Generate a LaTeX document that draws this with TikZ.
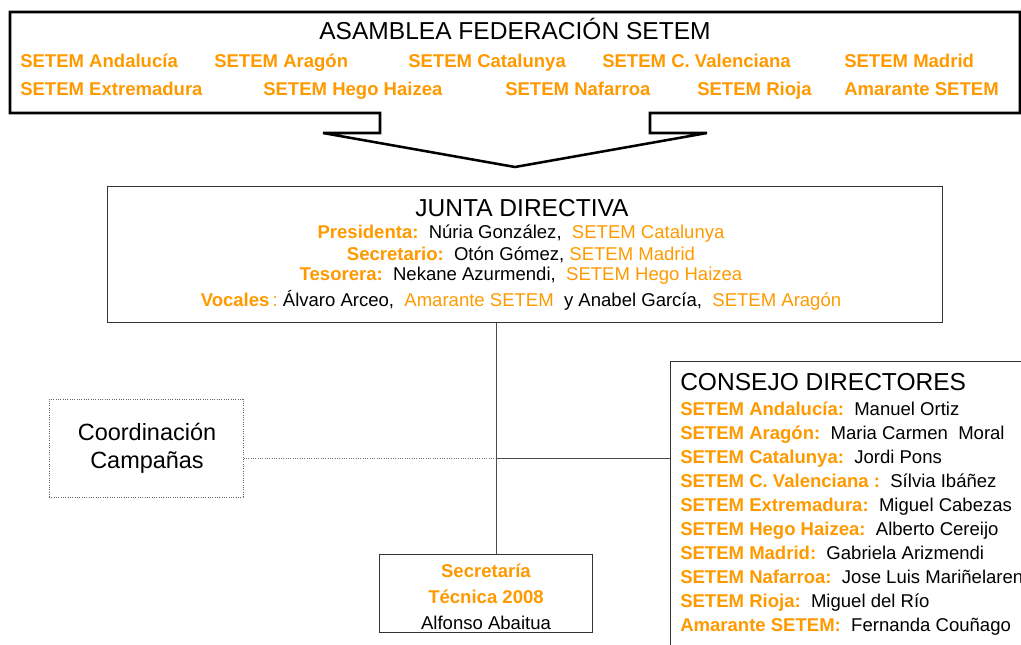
\documentclass[tikz,border=0pt]{standalone}
\usepackage{fontspec}
\setmainfont{Liberation Sans}
\usetikzlibrary{positioning}
\definecolor{setemnaranja}{RGB}{255,153,0}
\tikzstyle{caja} = [rectangle, draw=black!80, line width=0.75pt, inner sep=0pt]
\tikzstyle{cajapunteada} = [rectangle, draw=black!60, densely dotted, line width=0.75pt, inner sep=0pt]
\tikzstyle{titulo} = [font=\fontsize{18.4}{22}\selectfont, inner sep=0pt]
\tikzstyle{texto} = [font=\fontsize{13.9}{16}\selectfont, inner sep=0pt]
\tikzstyle{sede} = [text=setemnaranja, font=\fontsize{13.9}{16}\selectfont\bfseries, inner sep=0pt]
\tikzstyle{linea} = [draw=black!70, line width=0.75pt]
\newcommand{\org}[1]{\textcolor{setemnaranja}{\textbf{#1}}}
\newcommand{\naranja}[1]{\textcolor{setemnaranja}{#1}}

\begin{document}
\begin{tikzpicture}[x=0.75pt, y=-0.75pt]
\clip (0,0) rectangle (1021,644);
% asamblea
\draw [line width=1.9pt] (10,12) -- (1020,12) -- (1020,113) -- (650,113) -- (650,133) -- (707,133) -- (515,167) -- (323,133) -- (380,133) -- (380,113) -- (10,113) -- cycle;
\node (asamblea) [titulo, anchor=base] at (515,39) {ASAMBLEA FEDERACIÓN SETEM};
\node (and) [sede, anchor=base west] at (20,67) {SETEM Andalucía};
\node (ara) [sede, anchor=base west] at (214,67) {SETEM Aragón};
\node (cat) [sede, anchor=base west] at (408,67) {SETEM Catalunya};
\node (val) [sede, anchor=base west] at (602,67) {SETEM C. Valenciana};
\node (mad) [sede, anchor=base west] at (844,67) {SETEM Madrid};
\node (ext) [sede, anchor=base west] at (20,95) {SETEM Extremadura};
\node (heg) [sede, anchor=base west] at (263,95) {SETEM Hego Haizea};
\node (naf) [sede, anchor=base west] at (505,95) {SETEM Nafarroa};
\node (rio) [sede, anchor=base west] at (697,95) {SETEM Rioja};
\node (ama) [sede, anchor=base west] at (844,95) {Amarante SETEM};

% junta directiva
\node (junta) [caja, minimum width=626.25pt, minimum height=102pt] at (524.5,254) {};
\node (juntatit) [titulo, anchor=base] at (522,216) {JUNTA DIRECTIVA};
\node (pres) [texto, anchor=base] at (521,238) {\org{Presidenta:}~~Núria González,~~\naranja{SETEM Catalunya}};
\node (secr) [texto, anchor=base] at (521,260) {\org{Secretario:}~~Otón Gómez,~\naranja{SETEM Madrid}};
\node (teso) [texto, anchor=base] at (521,280) {\org{Tesorera:}~~Nekane Azurmendi,~~\naranja{SETEM Hego Haizea}};
\node (voca) [texto, anchor=base] at (521,306) {\org{Vocales}\,\naranja{:}~Álvaro Arceo,~~\naranja{Amarante SETEM}~~y Anabel García,~~\naranja{SETEM Aragón}};

% coordinacion, secretaria, consejo
\node (coord) [cajapunteada, minimum width=145.5pt, minimum height=73.5pt] at (146,448) {};
\node (coordtxt) [font=\fontsize{17.6}{21}\selectfont, align=center, inner sep=0pt, anchor=base] at (147,468) {Coordinación\\ Campañas};
\node (secretaria) [caja, minimum width=159.75pt, minimum height=58.5pt] at (485.5,593) {};
\node (secretxt) [texto, anchor=base, align=center] at (486,629) {\org{Secretaría}\\[3.5pt] \org{Técnica 2008}\\[3.5pt] Alfonso Abaitua};
\node (consejo) [caja, anchor=north west, minimum width=292.5pt, minimum height=240pt] at (670,361) {};
\node (consejotit) [titulo, anchor=base west] at (680,390) {CONSEJO DIRECTORES};
\foreach \sedecd/\nombre [count=\i] in {SETEM Andalucía:/Manuel Ortiz, SETEM Aragón:/Maria Carmen~~Moral, SETEM Catalunya:/Jordi Pons, SETEM C. Valenciana :/Sílvia Ibáñez, SETEM Extremadura:/Miguel Cabezas, SETEM Hego Haizea:/Alberto Cereijo, SETEM Madrid:/Gabriela Arizmendi, SETEM Nafarroa:/Jose Luis Mariñelaren, SETEM Rioja:/Miguel del Río, Amarante SETEM:/Fernanda Couñago}
  \node (cd\i) [texto, anchor=base west] at (680,391+24*\i) {\org{\sedecd}~~\nombre};

% conexiones
\coordinate (cruce) at (496,458);
\draw [linea] (junta.south -| cruce) -- (secretaria.north -| cruce);
\draw [linea, draw=black!55, densely dotted] (cruce -| coord.east) -- (cruce);
\draw [linea] (cruce) -- (cruce -| consejo.west);
\end{tikzpicture}
\end{document}
